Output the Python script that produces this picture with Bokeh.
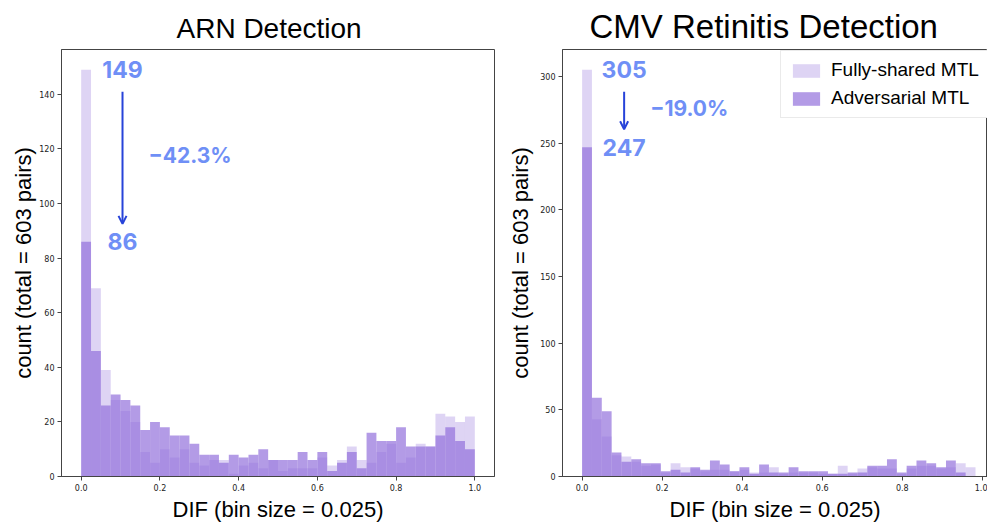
import numpy as np
from bokeh.plotting import figure
from bokeh.models import (FixedTicker, NumeralTickFormatter, Range1d, Legend, LegendItem,
                          Arrow, OpenHead, Label)
from bokeh.layouts import row
from bokeh.embed import file_html
from bokeh.resources import INLINE

# ---------------- data ----------------
series_names = ["Fully-shared MTL", "Adversarial MTL"]
titles = ["ARN Detection", "CMV Retinitis Detection"]
x_label = "DIF (bin size = 0.025)"
y_label = "count (total = 603 pairs)"

arn_dif_max = 1.0
arn_fully_shared = [149, 69, 39, 28, 24, 20, 9, 5, 10, 7,
                    10, 5, 4, 6, 6, 1, 4, 5, 3, 6,
                    2, 3, 3, 3, 7, 4, 6, 11, 6, 5,
                    9, 12, 5, 7, 12, 11, 23, 22, 20, 22]
arn_adversarial = [86, 46, 26, 30, 28, 26, 17, 20, 18, 15,
                   15, 12, 8, 8, 5, 8, 7, 8, 10, 6,
                   6, 6, 9, 6, 9, 2, 5, 9, 3, 16,
                   13, 13, 18, 11, 11, 11, 15, 18, 13, 10]

cmv_dif_max = 0.983
cmv_fully_shared = [305, 43, 30, 16, 15, 11, 8, 9, 3, 10,
                    7, 6, 4, 5, 5, 4, 5, 3, 3, 7,
                    2, 3, 3, 3, 2, 2, 8, 2, 6, 7,
                    6, 6, 2, 6, 8, 8, 6, 7, 10, 7]
cmv_adversarial = [247, 59, 49, 18, 11, 13, 10, 10, 4, 5,
                   3, 7, 5, 12, 9, 4, 7, 2, 9, 3,
                   3, 7, 4, 4, 4, 2, 2, 3, 3, 8,
                   8, 13, 3, 8, 12, 10, 7, 12, 3, 0]

x_ticks = [0.0, 0.2, 0.4, 0.6, 0.8, 1.0]
arn_y_ticks = [0, 20, 40, 60, 80, 100, 120, 140]
cmv_y_ticks = [0, 50, 100, 150, 200, 250, 300]

# ---------------- styling ----------------
BAR = "mediumpurple"
NUM_COLOR = "#6f8ff6"
ARROW_COLOR = "#2743d9"
H = 524
TOP = 47
BOTTOM = 47
FRAME_H = H - TOP - BOTTOM


def make_panel(title, fs, adv, dif_max, y_ticks, width, border_left, border_right,
               x_start, x_end, label_standoff, title_offset, title_size, title_standoff,
               legend):
    edges = np.linspace(0.0, dif_max, len(fs) + 1)
    y_max = max(max(fs), max(adv)) * 1.05
    p = figure(width=width, height=H, output_backend="svg", toolbar_location=None,
               x_range=Range1d(x_start, x_end), y_range=Range1d(0, y_max),
               min_border_left=border_left, min_border_right=border_right,
               min_border_top=TOP, min_border_bottom=BOTTOM)
    p.title.text = title
    p.title.text_font = "Liberation Sans"
    p.title.text_font_size = title_size
    p.title.text_font_style = "normal"
    p.title.text_color = "black"
    p.title.align = "left"
    p.title.standoff = title_standoff
    p.title.offset = title_offset
    p.xgrid.visible = False
    p.ygrid.visible = False
    p.outline_line_color = "#444444"
    p.outline_line_width = 1
    p.background_fill_color = "white"
    p.border_fill_color = "white"

    r_fs = p.quad(left=edges[:-1], right=edges[1:], bottom=0, top=fs,
                  fill_color=BAR, fill_alpha=0.3, line_color=None)
    r_adv = p.quad(left=edges[:-1], right=edges[1:], bottom=0, top=adv,
                   fill_color=BAR, fill_alpha=0.7, line_color=None)

    for ax in (p.xaxis[0], p.yaxis[0]):
        ax.axis_line_color = "#444444"
        ax.major_tick_line_color = "#444444"
        ax.major_tick_out = 4
        ax.major_tick_in = 0
        ax.minor_tick_line_color = None
        ax.major_label_text_font = "DejaVu Sans"
        ax.major_label_text_font_size = "8px"
        ax.major_label_text_color = "#222222"
        ax.major_label_standoff = 3
        ax.axis_label_text_font = "Liberation Sans"
        ax.axis_label_text_font_size = "22px"
        ax.axis_label_text_font_style = "normal"
        ax.axis_label_text_color = "black"
    p.xaxis[0].ticker = FixedTicker(ticks=x_ticks)
    p.xaxis[0].formatter = NumeralTickFormatter(format="0.0")
    p.xaxis[0].axis_label = x_label
    p.xaxis[0].axis_label_standoff = 3
    p.yaxis[0].ticker = FixedTicker(ticks=y_ticks)
    p.yaxis[0].axis_label = y_label
    p.yaxis[0].axis_label_standoff = label_standoff

    # annotation: drop of the first bin
    y_scale = FRAME_H / y_max
    ax_x = 0.105
    top_v, bot_v = fs[0], adv[0]
    pct = (bot_v - top_v) / top_v * 100
    pct_text = f"{pct:.1f}%".replace("-", "\u2212")
    for v in (top_v, bot_v):
        p.add_layout(Label(x=ax_x, y=v, text=str(v), text_align="center",
                           text_baseline="middle", text_font="Inter",
                           text_font_style="bold", text_font_size="23px",
                           text_color=NUM_COLOR))
    p.add_layout(Label(x=ax_x, y=(top_v + bot_v) / 2, x_offset=26, text=pct_text,
                       text_align="left", text_baseline="middle", text_font="Inter",
                       text_font_style="bold", text_font_size="21px",
                       text_color=NUM_COLOR))
    p.add_layout(Arrow(x_start=ax_x, y_start=top_v - 22 / y_scale,
                       x_end=ax_x, y_end=bot_v + 18 / y_scale,
                       line_color=ARROW_COLOR, line_width=2,
                       end=OpenHead(size=8, line_color=ARROW_COLOR, line_width=2)))

    if legend:
        leg = Legend(items=[LegendItem(label=series_names[0], renderers=[r_fs]),
                            LegendItem(label=series_names[1], renderers=[r_adv])],
                     location=(218, FRAME_H - 72), orientation="vertical",
                     padding=8, spacing=6, margin=0,
                     label_height=22, glyph_height=17, glyph_width=34,
                     label_standoff=8,
                     label_text_font="Liberation Sans", label_text_font_size="19px",
                     label_text_color="black",
                     border_line_color="#d6d6d6", border_line_width=1,
                     background_fill_color="white", background_fill_alpha=1.0)
        p.add_layout(leg)
    return p


left = make_panel(titles[0], arn_fully_shared, arn_adversarial, arn_dif_max, arn_y_ticks,
                  width=500, border_left=61, border_right=6,
                  x_start=-0.05, x_end=1.05, label_standoff=0, title_offset=115,
                  title_size="28px", title_standoff=12, legend=False)
right = make_panel(titles[1], cmv_fully_shared, cmv_adversarial, cmv_dif_max, cmv_y_ticks,
                   width=487, border_left=62, border_right=0,
                   x_start=-0.049, x_end=1.013, label_standoff=4, title_offset=27,
                   title_size="33px", title_standoff=10, legend=True)

layout = row(left, right, spacing=0)
open("out.html", "w").write(file_html(layout, INLINE))
